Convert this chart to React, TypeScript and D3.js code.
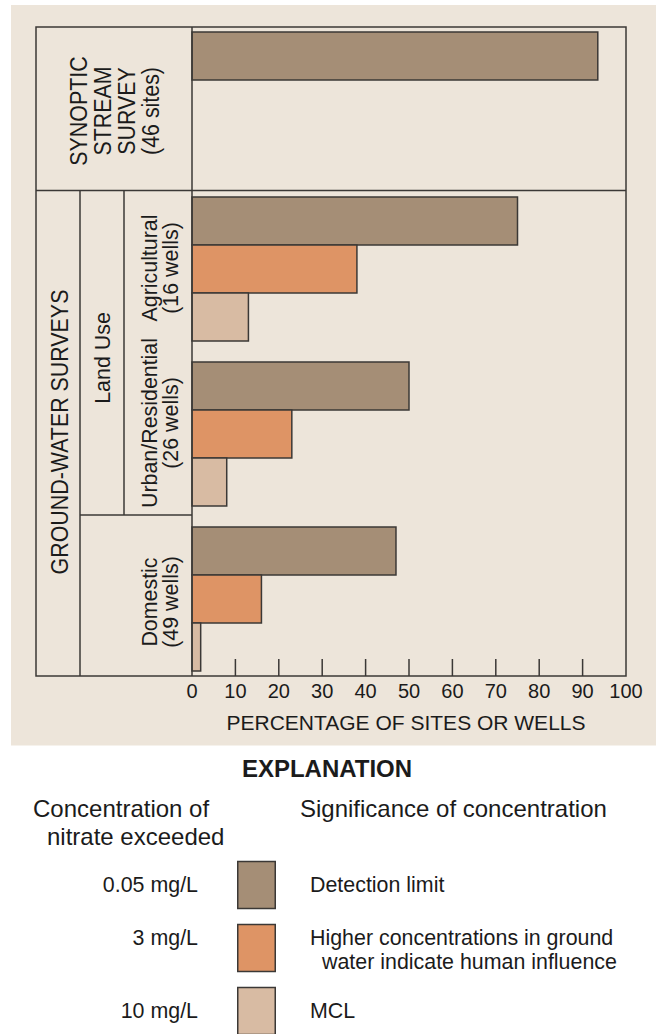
import React from "react";
import * as d3 from "d3";

// ---- Data ----
const groups = ["synoptic", "agricultural", "urban", "domestic"];
const groupLabels: string[][] = [
  ["SYNOPTIC", "STREAM", "SURVEY", "(46 sites)"],
  ["Agricultural", "(16 wells)"],
  ["Urban/Residential", "(26 wells)"],
  ["Domestic", "(49 wells)"],
];
const seriesKeys = ["0.05 mg/L", "3 mg/L", "10 mg/L"];
const detectionLimit: (number | null)[] = [93.5, 75, 50, 47];
const humanInfluence: (number | null)[] = [null, 38, 23, 16];
const mclExceeded: (number | null)[] = [null, 13, 8, 2];
const xTicks = [0, 10, 20, 30, 40, 50, 60, 70, 80, 90, 100];
const axisTitle = "PERCENTAGE OF SITES OR WELLS";
const legendTitle = "EXPLANATION";
const legendHeadLeft = ["Concentration of", "nitrate exceeded"];
const legendHeadRight = "Significance of concentration";
const legendSignif: string[][] = [
  ["Detection limit"],
  ["Higher concentrations in ground", "water indicate human influence"],
  ["MCL"],
];

const colors = ["#a58e76", "#de9465", "#d8bba3"];
const BG = "#ede5da";
const LINE = "#3b3836";
const TEXT = "#1b1b1b";
const FONT = "'Liberation Sans', Arial, Helvetica, sans-serif";

export default function App() {
  const W = 657;
  const H = 1034;
  const x0 = 192, x1 = 626;
  const frameL = 36, frameT = 27, frameB = 676;
  const col1 = 80, col2 = 124;
  const hLine1 = 190.5, hLine2 = 515;

  const x = d3.scaleLinear().domain([0, 100]).range([x0, x1]);
  const y = d3.scaleBand<string>().domain(groups).range([32, 671]).paddingInner(21 / 165).paddingOuter(0);
  const ySub = d3.scaleBand<string>().domain(seriesKeys).range([0, y.bandwidth()]);

  const series = [detectionLimit, humanInfluence, mclExceeded];
  const labelOffset: Record<string, number> = { agricultural: -1, urban: -11, domestic: 3 };

  const sw = 1.5;
  const stretch = 1.15;

  return (
    <svg
      width={W}
      height={H}
      style={{ position: "absolute", left: 0, top: 0, display: "block" }}
      fontFamily={FONT}
    >
      <rect x={0} y={0} width={W} height={H} fill="#ffffff" />
      <rect x={11} y={5} width={645} height={740.5} fill={BG} />

      {/* bars */}
      {groups.map((g, gi) =>
        series.map((s, si) => {
          const v = s[gi];
          if (v == null) return null;
          const yy = (y(g) as number) + (ySub(seriesKeys[si]) as number);
          return (
            <rect
              key={g + si}
              x={x(0)}
              y={yy}
              width={x(v) - x(0)}
              height={ySub.bandwidth()}
              fill={colors[si]}
              stroke={LINE}
              strokeWidth={sw}
            />
          );
        })
      )}

      {/* frame */}
      <g stroke={LINE} strokeWidth={sw} fill="none">
        <rect x={frameL} y={frameT} width={x1 - frameL} height={frameB - frameT} />
        <line x1={frameL} x2={x1} y1={hLine1} y2={hLine1} />
        <line x1={x0} x2={x0} y1={frameT} y2={frameB} />
        <line x1={col1} x2={col1} y1={hLine1} y2={frameB} />
        <line x1={col2} x2={col2} y1={hLine1} y2={hLine2} />
        <line x1={col1} x2={x0} y1={hLine2} y2={hLine2} />
        {xTicks.slice(1, -1).map((t) => (
          <line key={t} x1={x(t)} x2={x(t)} y1={frameB} y2={frameB - 17} />
        ))}
      </g>

      {/* tick labels */}
      <g fill={TEXT} fontSize={20} textAnchor="middle">
        {xTicks.map((t) => (
          <text key={t} x={x(t)} y={698}>
            {t}
          </text>
        ))}
      </g>
      <text x={406} y={730} fontSize={21} fill={TEXT} textAnchor="middle">
        {axisTitle}
      </text>

      {/* rotated row labels */}
      <g fill={TEXT} fontSize={21.4} textAnchor="middle">
        {groupLabels[0].map((l, i) => (
          <text key={l} transform={`translate(${86.5 + i * 24.3},111) scale(${stretch},1) rotate(-90)`}>
            {l}
          </text>
        ))}
        {groups.slice(1).map((g, gi) =>
          groupLabels[gi + 1].map((l, i) => (
            <text
              key={g + l}
              transform={`translate(${157 + i * 21},${(y(g) as number) + y.bandwidth() / 2 + (labelOffset[g] || 0)}) rotate(-90)`}
            >
              {l}
            </text>
          ))
        )}
        <text transform={`translate(68,432) scale(${stretch},1) rotate(-90)`}>GROUND-WATER SURVEYS</text>
        <text transform={`translate(110,358) rotate(-90)`}>Land Use</text>
      </g>

      {/* legend */}
      <text x={327} y={777} fontSize={24} fontWeight="bold" fill={TEXT} textAnchor="middle">
        {legendTitle}
      </text>
      <g fill={TEXT} fontSize={24}>
        <text x={33} y={817}>{legendHeadLeft[0]}</text>
        <text x={47} y={845}>{legendHeadLeft[1]}</text>
        <text x={300} y={817}>{legendHeadRight}</text>
      </g>
      {seriesKeys.map((k, i) => {
        const top = 861.5 + i * 63;
        const cy = top + 23.5;
        const sig = legendSignif[i];
        const base = sig.length > 1 ? cy - 3.5 : cy + 7;
        return (
          <g key={k}>
            <rect x={237.75} y={top} width={37.5} height={47} fill={colors[i]} stroke={LINE} strokeWidth={sw} />
            <text x={198} y={base} fontSize={21.4} fill={TEXT} textAnchor="end">
              {k}
            </text>
            {sig.map((s, j) => (
              <text key={s} x={j === 0 ? 310 : 322} y={base + j * 24} fontSize={21.4} fill={TEXT}>
                {s}
              </text>
            ))}
          </g>
        );
      })}
    </svg>
  );
}
